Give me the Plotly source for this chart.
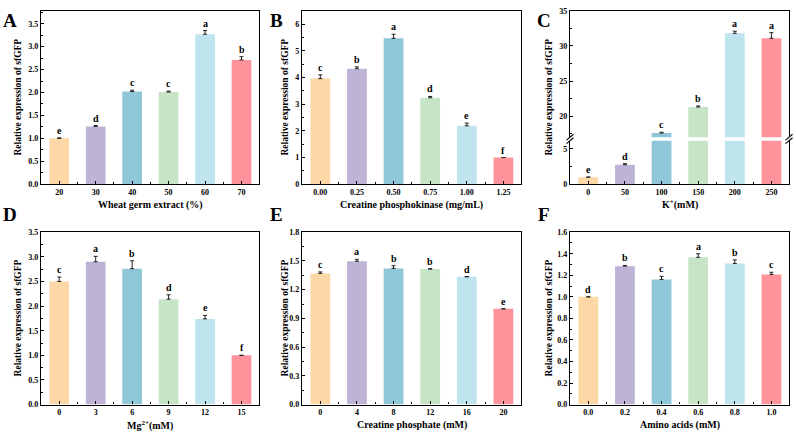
import plotly.graph_objects as go

colors = ['#FDD7A5', '#BFB2D7', '#8FC7D8', '#C7E4C6', '#BFE4EE', '#FF939C']

a_labels = ['20', '30', '40', '50', '60', '70']
a_vals = [1.0, 1.26, 2.02, 2.01, 3.27, 2.71]
a_err = [0.01, 0.02, 0.03, 0.02, 0.08, 0.07]
a_sig = ['e', 'd', 'c', 'c', 'a', 'b']

b_labels = ['0.00', '0.25', '0.50', '0.75', '1.00', '1.25']
b_vals = [3.96, 4.33, 5.47, 3.24, 2.19, 1.0]
b_err = [0.14, 0.07, 0.15, 0.05, 0.10, 0.0]
b_sig = ['c', 'b', 'a', 'd', 'e', 'f']

c_labels = ['0', '50', '100', '150', '200', '250']
c_vals = [1.0, 2.75, 17.6, 21.3, 31.8, 31.1]
c_err = [0.0, 0.15, 0.1, 0.15, 0.3, 0.8]
c_sig = ['e', 'd', 'c', 'b', 'a', 'a']

d_labels = ['0', '3', '6', '9', '12', '15']
d_vals = [2.50, 2.90, 2.76, 2.14, 1.74, 1.0]
d_err = [0.09, 0.11, 0.16, 0.09, 0.07, 0.0]
d_sig = ['c', 'a', 'b', 'd', 'e', 'f']

e_labels = ['0', '4', '8', '12', '16', '20']
e_vals = [1.37, 1.497, 1.422, 1.415, 1.334, 1.0]
e_err = [0.015, 0.02, 0.028, 0.004, 0.003, 0.0]
e_sig = ['c', 'a', 'b', 'b', 'd', 'e']

f_labels = ['0.0', '0.2', '0.4', '0.6', '0.8', '1.0']
f_vals = [1.0, 1.285, 1.162, 1.367, 1.31, 1.208]
f_err = [0.0, 0.006, 0.028, 0.033, 0.033, 0.02]
f_sig = ['d', 'b', 'c', 'a', 'b', 'c']

x_titles = ['Wheat germ extract (%)', 'Creatine phosphokinase (mg/mL)', 'K<sup>+</sup>(mM)',
            'Mg<sup>2+</sup>(mM)', 'Creatine phosphate (mM)', 'Amino acids (mM)']
panel_letters = ['A', 'B', 'C', 'D', 'E', 'F']
y_title = 'Relative expression of sfGFP'

W, H = 796, 437
FONT = 'Liberation Serif'


def px(x):
    return x / W


def py(y):
    return 1 - y / H


cols = [(41, 259), (302, 521), (570, 789)]
rows = [(7, 184), (233, 409)]

panels = [
    (a_labels, a_vals, a_err, a_sig, [0, 3.78], 0.5, 0.25, '.1f'),
    (b_labels, b_vals, b_err, b_sig, [0, 6.5], 1, 0.5, 'd'),
    (c_labels, c_vals, c_err, c_sig, None, None, None, 'd'),
    (d_labels, d_vals, d_err, d_sig, [0, 3.5], 0.5, 0.25, '.1f'),
    (e_labels, e_vals, e_err, e_sig, [0, 1.8], 0.3, 0.15, '.1f'),
    (f_labels, f_vals, f_err, f_sig, [0, 1.6], 0.2, 0.1, '.1f'),
]

fig = go.Figure()
layout = dict(width=W, height=H, margin=dict(l=0, r=0, t=0, b=0),
              paper_bgcolor='white', plot_bgcolor='white', showlegend=False)
annotations = []
shapes = []

tickfont = dict(family=FONT, size=8, color='black', weight='bold')
xr = [-0.5, 5.48]
xpos = list(range(6))


def xaxis_def(dom, anchor, labels):
    return dict(domain=dom, anchor=anchor, range=xr, tickmode='array', tickvals=xpos,
                ticktext=labels, ticks='inside', ticklen=3, tickwidth=1, tickcolor='black',
                showline=True, linecolor='black', linewidth=1.3, mirror=True,
                showgrid=False, zeroline=False, tickfont=tickfont,
                minor=dict(tickmode='array', tickvals=[i + 0.5 for i in range(5)],
                           ticks='inside', ticklen=2, tickcolor='black'))


def yaxis_def(dom, anchor, rng, dt, mdt, fmt, tick0=0):
    return dict(domain=dom, anchor=anchor, range=rng, tick0=tick0, dtick=dt, tickformat=fmt,
                ticks='inside', ticklen=3, tickwidth=1, tickcolor='black',
                showline=True, linecolor='black', linewidth=1.3, mirror=True,
                showgrid=False, zeroline=False, tickfont=tickfont,
                minor=dict(tick0=tick0, dtick=mdt, ticks='inside', ticklen=2, tickcolor='black'))


sigfont = dict(family=FONT, size=10, color='black', weight='bold')

for i, (labels, vals, err, sig, rng, dt, mdt, fmt) in enumerate(panels):
    n = i + 1
    c0, c1 = cols[i % 3]
    r0, r1 = rows[i // 3]
    xd = [px(c0), px(c1)]
    yd = [py(r1), py(r0)]
    xa = 'x' if n == 1 else f'x{n}'
    ya = 'y' if n == 1 else f'y{n}'
    xkey = 'xaxis' if n == 1 else f'xaxis{n}'
    ykey = 'yaxis' if n == 1 else f'yaxis{n}'
    bar = dict(x=xpos, y=vals, width=0.54, marker=dict(color=colors, line=dict(width=0)),
               error_y=dict(type='data', array=err, arrayminus=[0] * 6, symmetric=False,
                            color='#222222', thickness=1, width=2))
    if n != 3:
        fig.add_trace(go.Bar(xaxis=xa, yaxis=ya, **bar))
        layout[xkey] = xaxis_def(xd, ya, labels)
        layout[ykey] = yaxis_def(yd, xa, rng, dt, mdt, fmt)
        for k in range(6):
            annotations.append(dict(x=xpos[k], y=vals[k] + err[k], xref=xa, yref=ya,
                                    text=sig[k], showarrow=False, yanchor='bottom', yshift=0,
                                    font=sigfont))
    else:
        # broken axis: upper part (17-35) and lower part (0-6.15)
        gap_top, gap_bot = 136, 139.5
        fig.add_trace(go.Bar(xaxis='x3', yaxis='y3', **bar))
        fig.add_trace(go.Bar(xaxis='x7', yaxis='y7', **bar))
        up = xaxis_def(xd, 'y3', labels)
        up.update(side='top', showticklabels=False, ticks='', mirror=False,
                  minor=dict(ticks=''))
        layout['xaxis3'] = up
        lo = xaxis_def(xd, 'y7', labels)
        lo.update(mirror=False)
        layout['xaxis7'] = lo
        layout['yaxis3'] = yaxis_def([py(gap_top), py(r0)], 'x3', [17, 35], 5, 2.5, fmt)
        layout['yaxis7'] = yaxis_def([py(r1), py(gap_bot)], 'x7', [0, 6.15], 5, 2.5, fmt)
        for k in range(6):
            top = vals[k] + err[k]
            lower = top < 6
            annotations.append(dict(x=xpos[k], y=top, xref='x7' if lower else 'x3',
                                    yref='y7' if lower else 'y3',
                                    text=sig[k], showarrow=False, yanchor='bottom', yshift=0,
                                    font=sigfont))
        ymid = (gap_top + gap_bot) / 2
        for xx in (c0, c1):
            for off in (-1.8, 1.8):
                shapes.append(dict(type='line', xref='paper', yref='paper',
                                   x0=px(xx - 3.5), y0=py(ymid + off + 3),
                                   x1=px(xx + 3.5), y1=py(ymid + off - 3),
                                   line=dict(color='black', width=1.1)))

    # x title
    annotations.append(dict(x=px((c0 + c1) / 2), y=py(r1 + 21), xref='paper', yref='paper',
                            text=x_titles[i], showarrow=False, xanchor='center', yanchor='middle',
                            font=dict(family=FONT, size=10, color='black', weight='bold')))
    # y title
    ytx = {0: 18, 1: 285, 2: 549}[i % 3]
    annotations.append(dict(x=px(ytx), y=py((r0 + r1) / 2), xref='paper', yref='paper',
                            text=y_title, textangle=-90, showarrow=False,
                            xanchor='center', yanchor='middle',
                            font=dict(family=FONT, size=9.5, color='black', weight='bold')))
    # panel letter
    lx = {0: 10, 1: 276, 2: 544}[i % 3]
    ly = {0: 17, 1: 215}[i // 3]
    annotations.append(dict(x=px(lx), y=py(ly), xref='paper', yref='paper',
                            text=panel_letters[i], showarrow=False, xanchor='center',
                            yanchor='middle',
                            font=dict(family=FONT, size=19, color='black', weight='bold')))

layout['annotations'] = annotations
layout['shapes'] = shapes
fig.update_layout(**layout)
fig.write_html('out.html')
